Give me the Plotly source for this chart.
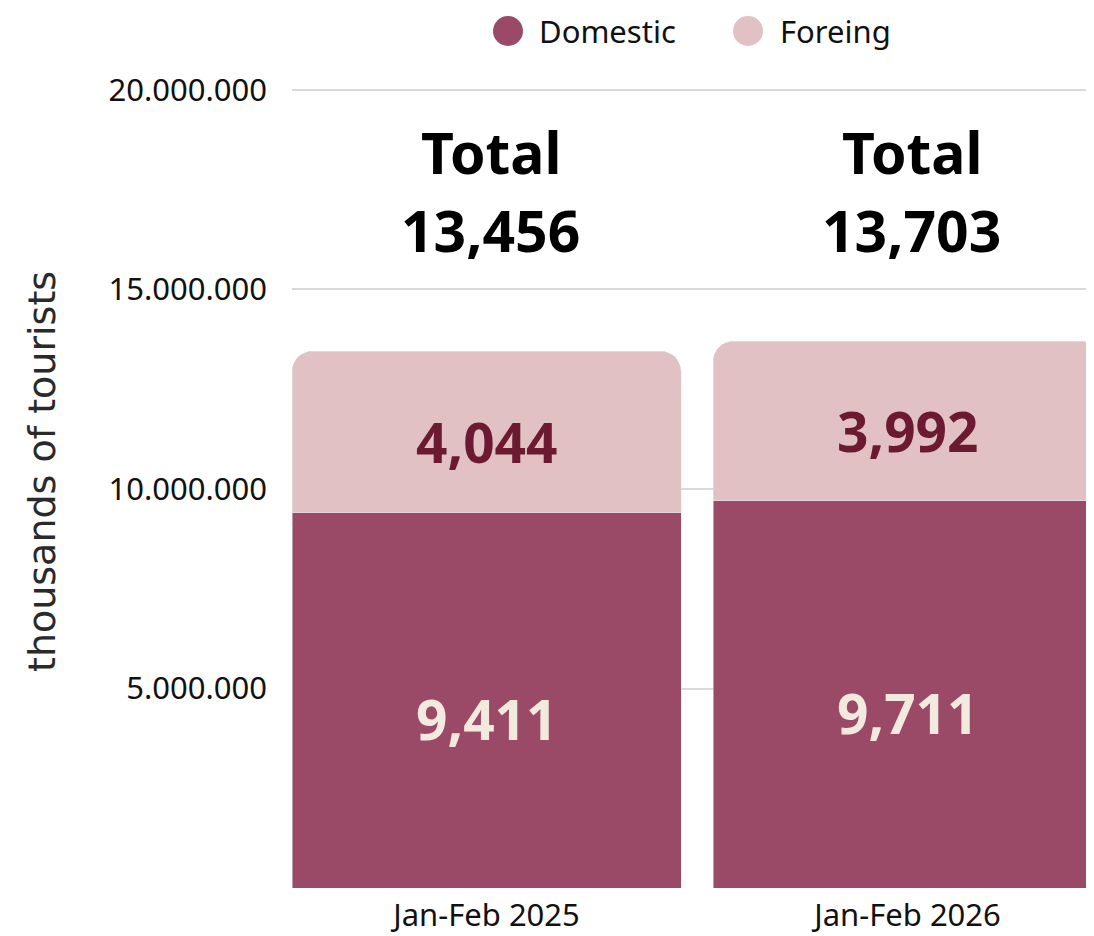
import plotly.graph_objects as go

categories = ["Jan-Feb 2025", "Jan-Feb 2026"]
domestic = [9411, 9711]      # thousands
foreign = [4044, 3992]       # thousands
totals = [13456, 13703]      # thousands
y_ticks = [5000000, 10000000, 15000000, 20000000]

DOM_COLOR = "#9A4A67"
FOR_COLOR = "#E1C1C3"
DOM_TEXT = "#F3EADF"
FOR_TEXT = "#6B1A32"

OFF = 8                      # page offset of the figure (body margin)
W, H = 1078, 936
Y_TOP = 20100000
L = 292 - OFF
bottom_px = 888 - OFF
ph = round(798 * Y_TOP / 20000000)
T = bottom_px - ph
B = H - bottom_px
R = 0
pw = W - L - R

def px_x(px):
    return (px - OFF - L) / pw

def px_y(py):
    return (bottom_px - (py - OFF)) / ph

fig = go.Figure()
fig.add_trace(go.Bar(x=[0, 1], y=[v * 1000 for v in domestic], name="Domestic",
                     marker_color=DOM_COLOR, showlegend=False, hoverinfo="skip"))
fig.add_trace(go.Bar(x=[0, 1], y=[v * 1000 for v in foreign], name="Foreing",
                     marker_color=FOR_COLOR, showlegend=False, hoverinfo="skip"))

ann = []
for i in range(len(categories)):
    ann.append(dict(x=i, y=domestic[i] * 1000 / 2, xref="x", yref="y", yshift=-18,
                    text=f"{domestic[i]:,}", showarrow=False, yanchor="middle",
                    font=dict(family="Noto Sans", size=55, color=DOM_TEXT, weight="bold")))
    ann.append(dict(x=i, y=(domestic[i] + foreign[i] / 2) * 1000, xref="x", yref="y", yshift=-10,
                    text=f"{foreign[i]:,}", showarrow=False, yanchor="middle",
                    font=dict(family="Noto Sans", size=55, color=FOR_TEXT, weight="bold")))
    ann.append(dict(x=i, y=px_y(152), xref="x", yref="paper", text="Total", showarrow=False,
                    yanchor="middle", xshift=4,
                    font=dict(family="Noto Sans", size=57, color="#000000", weight="bold")))
    ann.append(dict(x=i, y=px_y(230), xref="x", yref="paper", text=f"{totals[i]:,}", showarrow=False,
                    yanchor="middle", xshift=4,
                    font=dict(family="Noto Sans", size=57, color="#000000", weight="bold")))

# y axis title
ann.append(dict(x=px_x(42), y=px_y(472), xref="paper", yref="paper", text="thousands of tourists",
                textangle=-90, showarrow=False, xanchor="center", yanchor="middle",
                font=dict(family="DejaVu Sans", size=38, color="#2a2a2a")))

# manual legend
shapes = []
leg = [("Domestic", DOM_COLOR, 508, 537), ("Foreing", FOR_COLOR, 748, 778)]
r = 15
for name, col, cx, tx in leg:
    shapes.append(dict(type="circle", xref="paper", yref="paper",
                       x0=px_x(cx - r), x1=px_x(cx + r), y0=px_y(31 + r), y1=px_y(31 - r),
                       fillcolor=col, line=dict(width=0)))
    ann.append(dict(x=px_x(tx), y=px_y(31), xref="paper", yref="paper", text=name,
                    showarrow=False, xanchor="left", yanchor="middle",
                    font=dict(family="Noto Sans", size=31, color="#111111")))

fig.update_layout(
    width=W, height=H,
    margin=dict(l=L, r=R, t=T, b=B, pad=0),
    barmode="stack", bargap=0.076, barcornerradius=20,
    paper_bgcolor="#FFFFFF", plot_bgcolor="rgba(0,0,0,0)",
    separators=",.",
    showlegend=False,
    annotations=ann, shapes=shapes,
    font=dict(family="Noto Sans", color="#111111"),
)
fig.update_xaxes(range=[-0.462, -0.462 + pw / 421], tickvals=[0, 1], ticktext=categories,
                 showgrid=False, zeroline=False, showline=False, ticks="", ticklabelstandoff=6,
                 tickfont=dict(size=31, family="Noto Sans", color="#111111"))
fig.update_yaxes(range=[0, Y_TOP], tickvals=y_ticks, tickformat=",d",
                 showgrid=True, gridcolor="#D9D9D9", gridwidth=1.5, zeroline=False, showline=False,
                 ticks="", ticklabelstandoff=24,
                 tickfont=dict(size=31, family="Noto Sans", color="#111111"))

fig.write_html("out.html")
